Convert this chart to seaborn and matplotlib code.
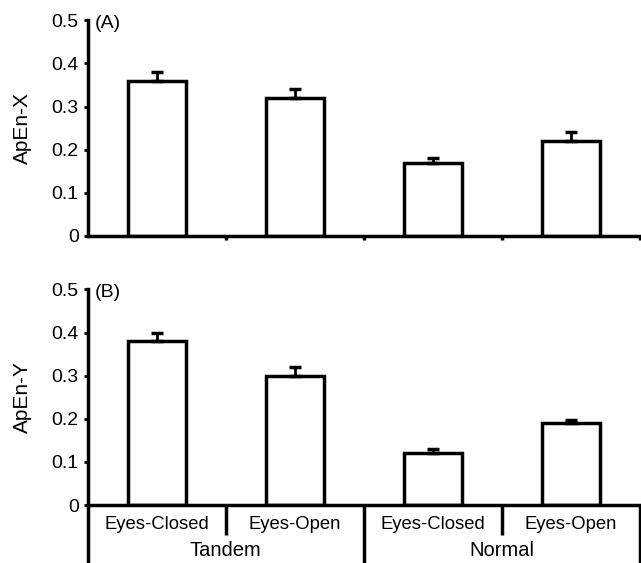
import matplotlib
matplotlib.use("Agg")
import matplotlib.pyplot as plt
import matplotlib.transforms as mtransforms
import seaborn as sns

conditions = ["Eyes-Closed", "Eyes-Open", "Eyes-Closed ", "Eyes-Open "]
stance = ["Tandem", "Normal"]
apen_x = [0.36, 0.32, 0.17, 0.22]
apen_x_err = [0.02, 0.02, 0.01, 0.02]
apen_y = [0.38, 0.30, 0.12, 0.19]
apen_y_err = [0.02, 0.02, 0.01, 0.007]
panels = ["(A)", "(B)"]
ylabels = ["ApEn-X", "ApEn-Y"]

sns.set_style("ticks", {"axes.edgecolor": "black", "text.color": "black",
                        "xtick.color": "black", "ytick.color": "black",
                        "axes.labelcolor": "black"})
plt.rcParams["font.family"] = ["Liberation Sans", "DejaVu Sans"]

fig = plt.figure(figsize=(6.41, 5.63), dpi=100)
ax_top = fig.add_axes([0.137, 0.581, 0.861, 0.383])
ax_bot = fig.add_axes([0.137, 0.103, 0.861, 0.383])

for ax, vals, errs, lab, yl in zip([ax_top, ax_bot], [apen_x, apen_y],
                                   [apen_x_err, apen_y_err], panels, ylabels):
    sns.barplot(x=conditions, y=vals, ax=ax, color="white", edgecolor="black",
                linewidth=2.5, width=0.42, errorbar=None)
    ax.errorbar(range(len(vals)), vals, yerr=[[0] * len(errs), errs], fmt="none",
                ecolor="black", elinewidth=2, capsize=4, capthick=2.5)
    ax.set_xlim(-0.5, 3.5)
    ax.set_ylim(0, 0.5)
    ax.set_yticks([0, 0.1, 0.2, 0.3, 0.4, 0.5])
    ax.set_yticklabels(["0", "0.1", "0.2", "0.3", "0.4", "0.5"])
    ax.set_ylabel(yl, fontsize=15, labelpad=14)
    ax.tick_params(axis="y", labelsize=14, width=2, length=3, direction="out")
    for s in ["top", "right"]:
        ax.spines[s].set_visible(False)
    ax.spines["left"].set_linewidth(2.5)
    ax.spines["bottom"].set_linewidth(2.5)
    ax.text(0.013, 0.986, lab, transform=ax.transAxes, fontsize=14,
            ha="left", va="center")

# top panel: ticks at category boundaries
ax_top.set_xticks([0.5, 1.5, 2.5, 3.5])
ax_top.set_xticklabels([])
ax_top.tick_params(axis="x", width=2.5, length=3, direction="out")

# bottom panel: grouped category labels
ax_bot.set_xticks([])
trans = mtransforms.blended_transform_factory(ax_bot.transData, ax_bot.transAxes)
for i, c in enumerate(conditions):
    ax_bot.text(i, -0.09, c.strip(), transform=trans, ha="center", va="center",
                fontsize=13.3)
for j, s in enumerate(stance):
    ax_bot.text(2 * j + 0.5, -0.21, s, transform=trans, ha="center", va="center",
                fontsize=14.5)
for xb in [-0.5, 1.5, 3.5]:
    ax_bot.plot([xb, xb], [0, -0.3], transform=trans, color="black", lw=2.5,
                clip_on=False, solid_capstyle="butt")
for xb in [0.5, 2.5]:
    ax_bot.plot([xb, xb], [0, -0.14], transform=trans, color="black", lw=2.5,
                clip_on=False, solid_capstyle="butt")

fig.savefig("out.png", dpi=100)
